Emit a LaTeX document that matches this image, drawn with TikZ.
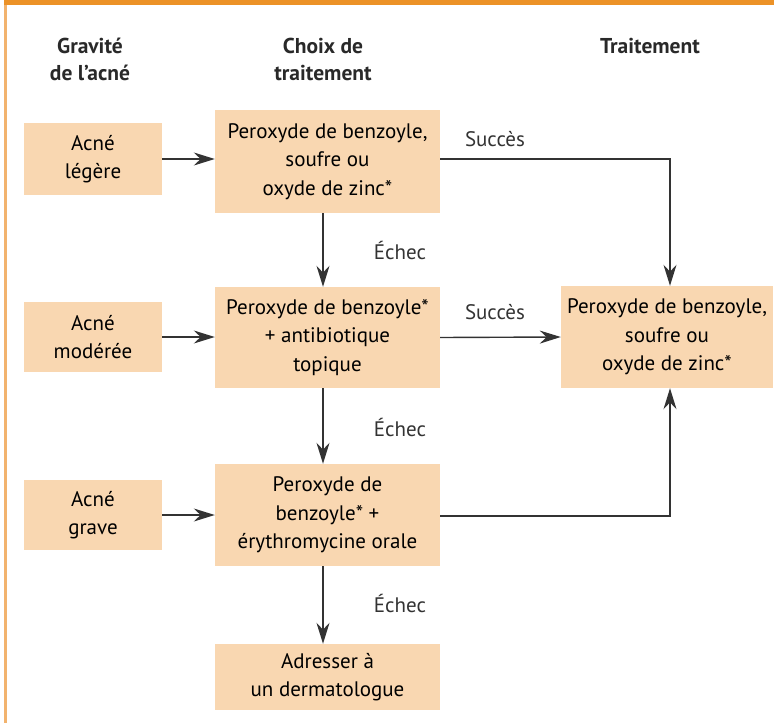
\documentclass[tikz,border=0pt]{standalone}
\usepackage{fontspec}
\setmainfont{PT Sans}
\usepackage{xcolor}
\usetikzlibrary{arrows.meta}
\definecolor{boxfill}{HTML}{F9D7B1}
\definecolor{topbar}{HTML}{EC9227}
\definecolor{sidebar}{HTML}{F2B36E}
\definecolor{linegray}{HTML}{333333}
\newcommand{\boxfont}{\fontsize{21}{28.5}\selectfont}
\newcommand{\headfont}{\fontsize{21.5}{27}\selectfont\bfseries}

\tikzset{
  box/.style={fill=boxfill, align=center, inner sep=0pt, font=\boxfont},
  head/.style={align=center, font=\headfont, text=linegray!80!black},
  flow/.style={->, draw=linegray, line width=1.4pt},
  lbl/.style={font=\boxfont, text=linegray}
}

\begin{document}
\begin{tikzpicture}[x=1pt,y=-1pt,>={Stealth[length=21pt,width=13pt]}]
  \useasboundingbox (0,0) rectangle (774,723);
  % frame
  \fill[sidebar] (4,0) rectangle (6.5,723);
  \fill[topbar] (4,0) rectangle (774,4.5);

  % headers
  \node[head] (h1) at (90,59) {Gravité\\de l'acné};
  \node[head] (h2) at (323,59) {Choix de\\traitement};
  \node[head] (h3) at (650,46) {Traitement};

  % severity
  \node[box, minimum width=138pt, minimum height=72pt] (leg) at (93,159) {Acné\\légère};
  \node[box, minimum width=138pt, minimum height=70pt] (mod) at (93,337) {Acné\\modérée};
  \node[box, minimum width=138pt, minimum height=70pt] (gra) at (93,515) {Acné\\grave};

  % choices
  \node[box, minimum width=225pt, minimum height=103pt] (c1) at (327.5,161.5)
    {Peroxyde de benzoyle,\\soufre ou\\oxyde de zinc*};
  \node[box, minimum width=225pt, minimum height=101pt] (c2) at (327.5,337.5)
    {Peroxyde de benzoyle*\\+ antibiotique\\topique};
  \node[box, minimum width=225pt, minimum height=102pt] (c3) at (327.5,515)
    {Peroxyde de\\benzoyle* +\\érythromycine orale};
  \node[box, minimum width=225pt, minimum height=66pt] (c4) at (327.5,677)
    {Adresser à\\un dermatologue};

  % maintenance
  \node[box, minimum width=212pt, minimum height=102pt] (tr) at (667,337)
    {Peroxyde de benzoyle,\\soufre ou\\oxyde de zinc*};

  \draw[flow] (leg.east) -- (leg.east -| c1.west);
  \draw[flow] (mod.east) -- (mod.east -| c2.west);
  \draw[flow] (gra.east) -- (gra.east -| c3.west);

  \coordinate (col) at (323,0);
  \draw[flow] (c1.south -| col) -- (c2.north -| col);
  \draw[flow] (c2.south -| col) -- (c3.north -| col);
  \draw[flow] (c3.south -| col) -- (c4.north -| col);
  \node[lbl] (e1) at (400,250) {Échec};
  \node[lbl] (e2) at (400,427) {Échec};
  \node[lbl] (e3) at (400,603) {Échec};

  \coordinate (up) at (670,159);
  \coordinate (dn) at (670,516);
  \draw[flow] (c1.east |- up) -- (up) -- (up |- tr.north);
  \node[lbl] (s1) at (495,139) {Succès};
  \draw[flow] (c2.east) -- (tr.west);
  \node[lbl] (s2) at (495,312) {Succès};
  \draw[flow] (c3.east |- dn) -- (dn) -- (dn |- tr.south);
\end{tikzpicture}
\end{document}
